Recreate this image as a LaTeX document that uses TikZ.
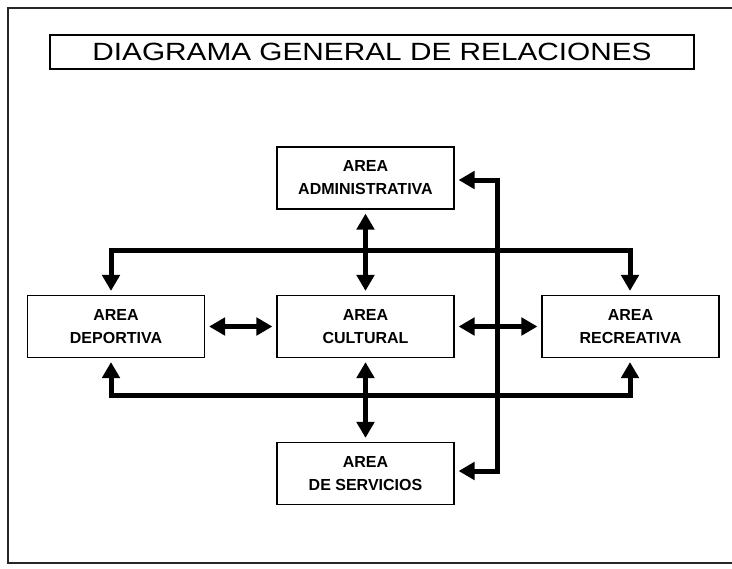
\documentclass[tikz,border=0pt]{standalone}
\usepackage{fontspec}
\setmainfont{Liberation Sans}
\usepackage{graphicx}
\usetikzlibrary{arrows.meta}
\begin{document}
\begin{tikzpicture}[x=0.75pt,y=-0.75pt,
  area/.style={draw=black,line width=0.9pt,minimum width=132.75pt,minimum height=46.5pt,inner sep=0pt,align=center,
    font=\fontsize{12}{17.25}\selectfont\bfseries},
  titlebox/.style={draw=black,line width=0.9pt,minimum width=483pt,minimum height=25.5pt,inner sep=0pt},
  conn/.style={line width=3.75pt,line join=miter,{Triangle[width=13pt,length=12pt]}-{Triangle[width=13pt,length=12pt]},shorten <=3pt,shorten >=3pt},
  frame/.style={line width=1.2pt,black!85}]
\useasboundingbox (0,0) rectangle (732,568);
\draw[frame] (732,8) -- (8,8) -- (8,563) -- (732,563);
\node[titlebox] (title) at (372,52) {\scalebox{1.015}[0.85]{\fontsize{22}{24}\selectfont DIAGRAMA GENERAL DE RELACIONES}};
\node[area] (adm) at (365.5,178) {AREA\\ADMINISTRATIVA};
\node[area] (dep) at (116,326.5) {AREA\\DEPORTIVA};
\node[area] (cul) at (365.5,326.5) {AREA\\CULTURAL};
\node[area] (rec) at (630.5,326.5) {AREA\\RECREATIVA};
\node[area] (ser) at (365.5,473.5) {AREA\\DE SERVICIOS};
\coordinate (tl) at (111,250);
\coordinate (tr) at (630,250);
\coordinate (bl) at (111,395);
\coordinate (br) at (630,395);
\coordinate (rt) at (497,180);
\coordinate (rb) at (497,471);
\draw[conn] (dep.north -| tl) -- (tl) -- (tr) -- (rec.north -| tr);
\draw[conn] (dep.south -| bl) -- (bl) -- (br) -- (rec.south -| br);
\draw[conn] (adm.east |- rt) -- (rt) -- (rb) -- (ser.east |- rb);
\draw[conn] (adm.south) -- (cul.north);
\draw[conn] (cul.south) -- (ser.north);
\draw[conn] (dep.east) -- (cul.west);
\draw[conn] (cul.east) -- (rec.west);
\end{tikzpicture}
\end{document}
